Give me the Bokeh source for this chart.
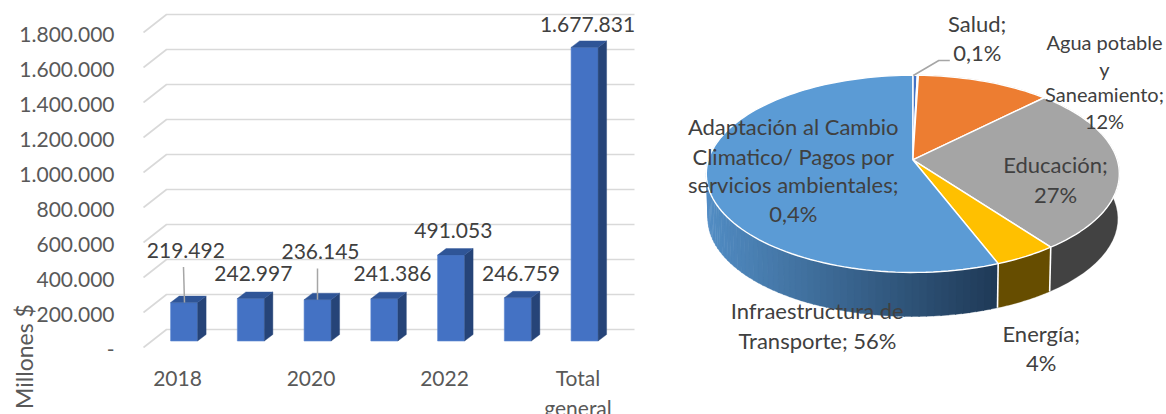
import math
from bokeh.embed import file_html
from bokeh.resources import INLINE
from bokeh.models import Range1d, FixedTicker, LinearAxis
from bokeh.plotting import figure
from bokeh.core.properties import value

# ---- data ----
years = ["2018", "2019", "2020", "2021", "2022", "2023", "Total\ngeneral"]
amounts = [219492, 242997, 236145, 241386, 491053, 246759, 1677831]
amount_labels = ["219.492", "242.997", "236.145", "241.386", "491.053", "246.759", "1.677.831"]
y_ticks = [0, 200000, 400000, 600000, 800000, 1000000, 1200000, 1400000, 1600000, 1800000]
y_tick_labels = ["-", "200.000", "400.000", "600.000", "800.000", "1.000.000", "1.200.000", "1.400.000", "1.600.000", "1.800.000"]

sector_names = ["Adaptación", "Salud", "Agua", "Educación", "Energía", "Transporte"]
sector_shares = [0.4, 0.1, 12.0, 27.3, 4.3, 55.9]
sector_colors = ["#4472c4", "#70ad47", "#ed7d31", "#a5a5a5", "#ffc000", "#5b9bd5"]
wall_colors = ["#2b4a80", "#44702c", "#8a4a1c", "#424242", "#664d00", "#1f3a57"]

FONT = "Lato"
TXT = "#404040"
AX = "#595959"

# ---- page-pixel geometry ----
W, H = 1166, 414
PX_PER_UNIT = 175 / 1e6     # vertical px per value
Y0 = 347                    # page y of value 0 on the front plane
X0, DX = 177, 66.75         # page x of first category and spacing
px2x = lambda px: (px - X0) / DX
dy2v = lambda d: d / PX_PER_UNIT
py2v = lambda py: (Y0 - py) / PX_PER_UNIT

p = figure(width=W, height=H, output_backend="svg", toolbar_location=None,
           x_range=Range1d(px2x(0), px2x(W)), y_range=Range1d(py2v(H), py2v(0)),
           min_border=0, x_axis_location=None, y_axis_location=None)
LABEL_DROP = 1.7   # axis labels sit slightly under their gridline corner
p.extra_x_ranges = {"px": Range1d(0, W)}
p.extra_y_ranges = {"py": Range1d(H, 0), "yax": Range1d(py2v(H - LABEL_DROP), py2v(-LABEL_DROP))}
p.outline_line_color = None
p.grid.visible = False
p.background_fill_color = None
p.border_fill_color = None

ya = LinearAxis(y_range_name="yax", fixed_location=px2x(120), ticker=FixedTicker(ticks=y_ticks),
                major_label_overrides=dict(zip(y_ticks, y_tick_labels)),
                axis_line_color=None, major_tick_line_color=None, minor_tick_line_color=None,
                major_label_text_font=FONT, major_label_text_font_size="21px",
                major_label_text_color=AX, major_label_standoff=0)
p.add_layout(ya, "left")

x_ticks = list(range(0, len(years), 2))
xa = LinearAxis(fixed_location=py2v(352), ticker=FixedTicker(ticks=x_ticks),
                major_label_overrides={i: years[i] for i in x_ticks},
                axis_line_color=None, major_tick_line_color=None, minor_tick_line_color=None,
                major_label_text_font=FONT, major_label_text_font_size="21px",
                major_label_text_color=AX, major_label_standoff=6)
p.add_layout(xa, "below")

# gridlines in 3D: front-left corner, back corner, right end
BACK_DX, BACK_DY = 23, 18
for v in y_ticks:
    p.line([px2x(143), px2x(143 + BACK_DX), px2x(634)],
           [v, v + dy2v(BACK_DY), v + dy2v(BACK_DY)],
           line_color="#d9d9d9", line_width=1.6)

# 3D bars
BAR_SHIFT = 6.6 / DX       # bars stand a little behind the axis plane
HALF = 13.5 / DX
LIFT = dy2v(6.5)
SIDE_X, SIDE_Y = 8.5 / DX, dy2v(6.5)
for i, v in enumerate(amounts):
    c = i + BAR_SHIFT
    l, r = c - HALF, c + HALF
    b, t = LIFT, v + LIFT
    p.patch([l, r, r, l], [b, b, t, t], fill_color="#4472c4", line_color="#5a86d0", line_width=0.6)
    p.patch([r, r + SIDE_X, r + SIDE_X, r], [b, b + SIDE_Y, t + SIDE_Y, t], fill_color="#264478", line_color="#264478", line_width=0.4)
    p.patch([l, r, r + SIDE_X, l + SIDE_X], [t, t, t + SIDE_Y, t + SIDE_Y], fill_color="#2f5597", line_color="#2f5597", line_width=0.4)

# leader lines for two labels
for idx, dx in {0: (183, 184), 2: (317, 317)}.items():
    top = 266.5 if idx == 0 else 268
    p.line([px2x(dx[0]), px2x(dx[1])], [py2v(top), amounts[idx] + LIFT],
           line_color="#a6a6a6", line_width=1.5)

# data labels (page-pixel centres)
lab_px = [185.3, 252.8, 320, 392, 452.8, 520.5, 587]
lab_py = [250, 273, 251, 273, 230, 273, 23.5]
p.text([px2x(q) for q in lab_px], [py2v(q) for q in lab_py], text=amount_labels,
       text_font=value(FONT), text_font_size="21px", text_color=TXT,
       text_align="center", text_baseline="middle")

p.text([px2x(23)], [py2v(356)], text=["Millones $"], angle=math.pi / 2,
       text_font=value(FONT), text_font_size="23px", text_color=AX,
       text_align="center", text_baseline="middle")

# ---- perspective pie ----
CX, CY = 912.3, 159.3   # apex of the pie on the page
SX, SY, K = 204.4, 96.6, 0.1424
DEPTH = 45
BOTTOM_SCALE = 0.992
PX = dict(x_range_name="px", y_range_name="py")


def rim(theta, dz=0.0, scale=1.0):
    d = 1 + K * math.cos(theta)
    return (CX + scale * SX * math.sin(theta) / d, CY - scale * SY * math.cos(theta) / d + dz)


def arc(a0, a1, n):
    return [a0 + (a1 - a0) * j / n for j in range(n + 1)]


def mix(c1, c2, f):
    a = [int(c1[i:i + 2], 16) for i in (1, 3, 5)]
    b = [int(c2[i:i + 2], 16) for i in (1, 3, 5)]
    return "#%02x%02x%02x" % tuple(round(a[i] + (b[i] - a[i]) * f) for i in range(3))


total = sum(sector_shares)
edges = [0.0]
for s in sector_shares:
    edges.append(edges[-1] + s / total * 2 * math.pi)

# side walls
for k, s in enumerate(sector_shares):
    a0, a1 = edges[k], edges[k + 1]
    if sector_names[k] == "Transporte":
        steps = 70
        angs = arc(a0, a0 + 0.62 * (a1 - a0), steps)
        for j in range(steps):
            u0, u1 = angs[j], angs[j + 1] + 0.004
            t0, t1 = rim(u0), rim(u1)
            b0, b1 = rim(u0, DEPTH, BOTTOM_SCALE), rim(u1, DEPTH, BOTTOM_SCALE)
            f = max(0, min(1, (999 - t0[0]) / (999 - 706)))
            col = mix("#1f3a57", "#528dc4", f)
            p.patch([t0[0], t1[0], b1[0], b0[0]], [t0[1], t1[1], b1[1], b0[1]],
                    fill_color=col, line_color=col, line_width=0.3, **PX)
    else:
        angs = arc(a0, a1, 30)
        top = [rim(u) for u in angs]
        bot = [rim(u, DEPTH, BOTTOM_SCALE) for u in reversed(angs)]
        p.patch([q[0] for q in top + bot], [q[1] for q in top + bot],
                fill_color=wall_colors[k], line_color=wall_colors[k], line_width=0.3, **PX)

# white separators on the wall
for name in ("Energía", "Transporte"):
    k = sector_names.index(name)
    t, b = rim(edges[k]), rim(edges[k], DEPTH, BOTTOM_SCALE)
    p.line([t[0], b[0]], [t[1], b[1]], line_color="white", line_width=1.6, **PX)

# top faces
for k, s in enumerate(sector_shares):
    angs = arc(edges[k], edges[k + 1], max(3, int(s * 2)))
    pts = [(CX, CY)] + [rim(u) for u in angs]
    p.patch([q[0] for q in pts], [q[1] for q in pts], fill_color=sector_colors[k],
            line_color="white", line_width=1.4, **PX)

# leader line of Salud
p.line([912.8, 938.3, 949.3], [75, 60, 60], line_color="#a6a6a6", line_width=1.5, **PX)

# labels
BIG, SMALL = 22, 20
pie_texts = [
    (976.7, 23.3, "Salud;", BIG), (976.7, 52.3, "0,1%", BIG),
    (1104, 41.7, "Agua potable", SMALL), (1104, 68.3, "y", SMALL), (1104, 93.3, "Saneamiento;", SMALL), (1104, 120, "12%", SMALL),
    (792.7, 126, "Adaptación al Cambio", BIG), (792.7, 155.7, "Climatico/ Pagos por", BIG),
    (792.7, 184.3, "servicios ambientales;", BIG), (792.7, 213.3, "0,4%", BIG),
    (1055, 164.3, "Educación;", BIG), (1055, 194.3, "27%", BIG),
    (816.7, 310, "Infraestructura de", BIG), (817, 340, "Transporte; 56%", BIG),
    (1040.7, 333.3, "Energía;", BIG), (1040.7, 362.3, "4%", BIG),
]
for x, y, t, fs in pie_texts:
    p.text([x], [y], text=[t], text_font=value(FONT), text_font_size=f"{fs}px", text_color=TXT,
           text_align="center", text_baseline="middle", **PX)

open("out.html", "w").write(file_html(p, INLINE))
